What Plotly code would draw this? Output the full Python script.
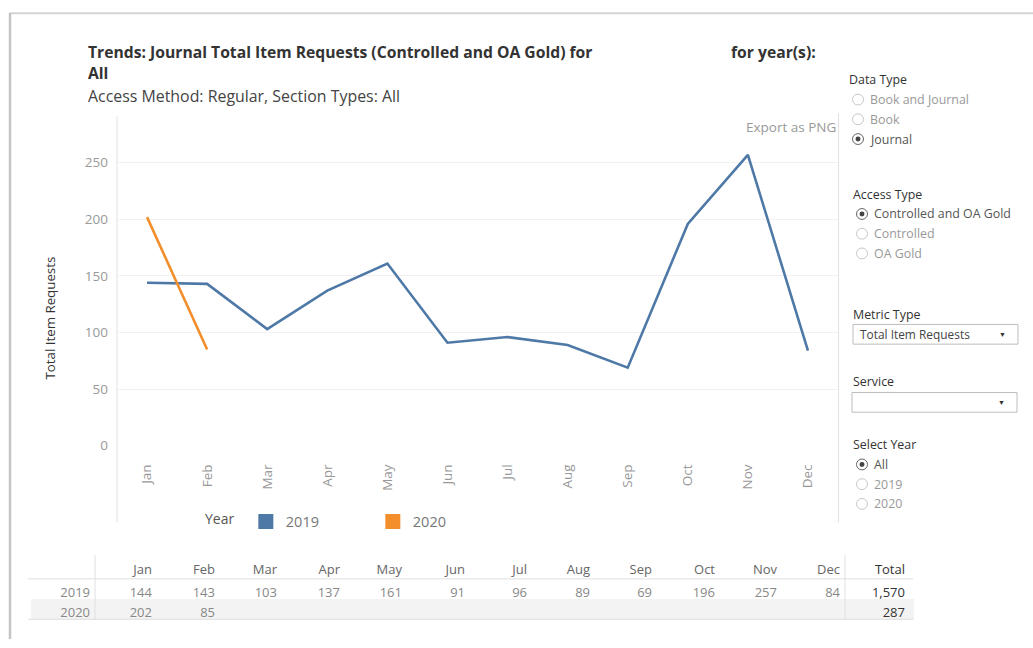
import plotly.graph_objects as go

W, H = 1033, 648
FONT = "Open Sans"

months = ["Jan", "Feb", "Mar", "Apr", "May", "Jun", "Jul", "Aug", "Sep", "Oct", "Nov", "Dec"]
years = ["2019", "2020"]
values_2019 = [144, 143, 103, 137, 161, 91, 96, 89, 69, 196, 257, 84]
values_2020 = [202, 85]
colors = {"2019": "#4e79a7", "2020": "#f28e2b"}
yticks = [0, 50, 100, 150, 200, 250]

series = {"2019": values_2019, "2020": values_2020}


def X(px):
    return px / W


def Y(py):
    return 1 - py / H


fig = go.Figure()

for yr in years:
    vals = series[yr]
    fig.add_trace(go.Scatter(
        x=months[:len(vals)], y=vals, mode="lines",
        line=dict(color=colors[yr], width=2.6),
        showlegend=False, xaxis="x", yaxis="y", name=yr,
    ))
    # legend swatch (square), as in the Tableau colour legend
    fig.add_trace(go.Scatter(
        x=[None], y=[None], mode="markers", name=yr,
        marker=dict(symbol="square", size=15, color=colors[yr]),
        showlegend=True,
    ))

# ---- table (below the chart) ----
totals = [sum(values_2019), sum(values_2020)]
cols_header = [""] + months + ["Total"]
col_vals = [years]
for i, m in enumerate(months):
    col_vals.append([
        str(values_2019[i]) if i < len(values_2019) else "",
        str(values_2020[i]) if i < len(values_2020) else "",
    ])
col_vals.append([f"{t:,}" for t in totals])

row_fill = ["#ffffff", "#f3f3f3"]
ncol = len(cols_header)
fig.add_trace(go.Table(
    domain=dict(x=[X(31), X(913)], y=[Y(645), Y(564)]),
    columnwidth=[67] + [62, 63] * 6 + [65],
    header=dict(
        values=cols_header, align="right", height=23,
        fill=dict(color="rgba(0,0,0,0)"),
        line=dict(color="rgba(0,0,0,0)", width=0),
        font=dict(family=FONT, size=13, color=["#666"] * 13 + ["#333"]),
    ),
    cells=dict(
        values=col_vals, align="right", height=20,
        fill=dict(color=[row_fill] * ncol),
        line=dict(color=[row_fill] * ncol, width=1),
        font=dict(family=FONT, size=13, color=["#888"] * 13 + ["#333"]),
    ),
))

shapes = []
# card border
shapes.append(dict(type="line", xref="paper", yref="paper", x0=X(10), x1=X(1033), y0=Y(13.5), y1=Y(13.5),
                   line=dict(color="#d4d4d4", width=2)))
shapes.append(dict(type="line", xref="paper", yref="paper", x0=X(10), x1=X(10), y0=Y(13), y1=Y(648),
                   line=dict(color="#c4c4c4", width=2.5)))
# chart axis / divider lines
shapes.append(dict(type="line", xref="paper", yref="paper", x0=X(117), x1=X(117), y0=Y(118), y1=Y(530),
                   line=dict(color="#e2e2e2", width=1)))
shapes.append(dict(type="line", xref="paper", yref="paper", x0=X(838.5), x1=X(838.5), y0=Y(115), y1=Y(530),
                   line=dict(color="#e2e2e2", width=1)))
# table rules
for yy in (587, 628):
    shapes.append(dict(type="line", xref="paper", yref="paper", x0=X(28), x1=X(913), y0=Y(yy), y1=Y(yy),
                       line=dict(color="#e0e0e0", width=1)))
for xx in (95, 845):
    shapes.append(dict(type="line", xref="paper", yref="paper", x0=X(xx), x1=X(xx), y0=Y(563), y1=Y(628),
                       line=dict(color="#e0e0e0", width=1)))

annotations = []


def text(x, y, s, size=11, color="#333", bold=False, anchor="left"):
    if bold:
        s = f"<b>{s}</b>"
    annotations.append(dict(xref="paper", yref="paper", x=X(x), y=Y(y), text=s, showarrow=False,
                            xanchor=anchor, yanchor="middle",
                            font=dict(family=FONT, size=size, color=color)))


# titles
text(86, 53, "Trends: Journal Total Item Requests (Controlled and OA Gold) for", 15.7, "#333", True)
text(729, 53, "for year(s):", 15.7, "#333", True)
text(86, 74, "All", 15.7, "#333", True)
text(86, 97, "Access Method: Regular, Section Types: All", 15.9, "#444")
text(838, 129, "Export as PNG", 13.5, "#999", anchor="right")

# y-axis title
annotations.append(dict(xref="paper", yref="paper", x=X(50), y=Y(323), text="Total Item Requests",
                        showarrow=False, textangle=-90, xanchor="center", yanchor="middle",
                        font=dict(family=FONT, size=13.3, color="#333")))


def radio(cx, cy, label, selected):
    r = 5.5
    shapes.append(dict(type="circle", xref="paper", yref="paper",
                       x0=X(cx - r), x1=X(cx + r), y0=Y(cy - r), y1=Y(cy + r),
                       line=dict(color="#666" if selected else "#c8c8c8", width=1), fillcolor="white"))
    if selected:
        r2 = 2.5
        shapes.append(dict(type="circle", xref="paper", yref="paper",
                           x0=X(cx - r2), x1=X(cx + r2), y0=Y(cy - r2), y1=Y(cy + r2),
                           line=dict(color="#444", width=0), fillcolor="#444"))
    text(cx + 10, cy, label, 12.4, "#555" if selected else "#999")


def dropdown(x0, y0, x1, y1, label):
    shapes.append(dict(type="rect", xref="paper", yref="paper", x0=X(x0), x1=X(x1), y0=Y(y0), y1=Y(y1),
                       line=dict(color="#bdbdbd", width=1), fillcolor="white"))
    if label:
        text(x0 + 5, (y0 + y1) / 2, label, 11.9, "#444")
    text(x1 - 16, (y0 + y1) / 2 + 0.5, "▼", 7, "#333", anchor="center")


text(847, 81, "Data Type", 12.4, "#333")
radio(858, 101, "Book and Journal", False)
radio(858, 121, "Book", False)
radio(858, 141, "Journal", True)

text(851, 197, "Access Type", 12.4, "#333")
radio(862, 217, "Controlled and OA Gold", True)
radio(862, 237, "Controlled", False)
radio(862, 257, "OA Gold", False)

text(851, 319, "Metric Type", 12.4, "#333")
dropdown(853, 329, 1018, 349, "Total Item Requests")

text(851, 387, "Service", 12.4, "#333")
dropdown(852, 398, 1017, 418, "")

text(851, 451, "Select Year", 12.4, "#333")
radio(862, 471, "All", True)
radio(862, 491, "2019", False)
radio(862, 511, "2020", False)

fig.update_layout(
    width=W, height=H, autosize=False,
    margin=dict(l=0, r=0, t=0, b=0),
    paper_bgcolor="white", plot_bgcolor="white",
    font=dict(family=FONT),
    xaxis=dict(
        domain=[X(117), X(838)], type="category", categoryorder="array", categoryarray=months,
        range=[-0.5, 11.5], tickangle=-90, showgrid=False, zeroline=False, showline=False,
        ticks="", ticklabelstandoff=15, tickfont=dict(family=FONT, size=13.5, color="#999"),
    ),
    yaxis=dict(
        domain=[Y(452), Y(118)], range=[0, 291], tickvals=yticks,
        showgrid=True, gridcolor="#f1f1f1", gridwidth=1, zeroline=False, showline=False,
        ticks="", ticklabelstandoff=8, tickfont=dict(family=FONT, size=13.5, color="#999"),
    ),
    legend=dict(
        orientation="h", x=X(203), y=Y(529), xanchor="left", yanchor="middle",
        title=dict(text="Year ", font=dict(family=FONT, size=14, color="#555")),
        font=dict(family=FONT, size=14.5, color="#777"),
        entrywidth=82, entrywidthmode="pixels", bgcolor="rgba(0,0,0,0)",
    ),
    shapes=shapes,
    annotations=annotations,
)

fig.write_html("out.html", post_script="document.body.style.margin='0px';",
               config={"displayModeBar": False})
